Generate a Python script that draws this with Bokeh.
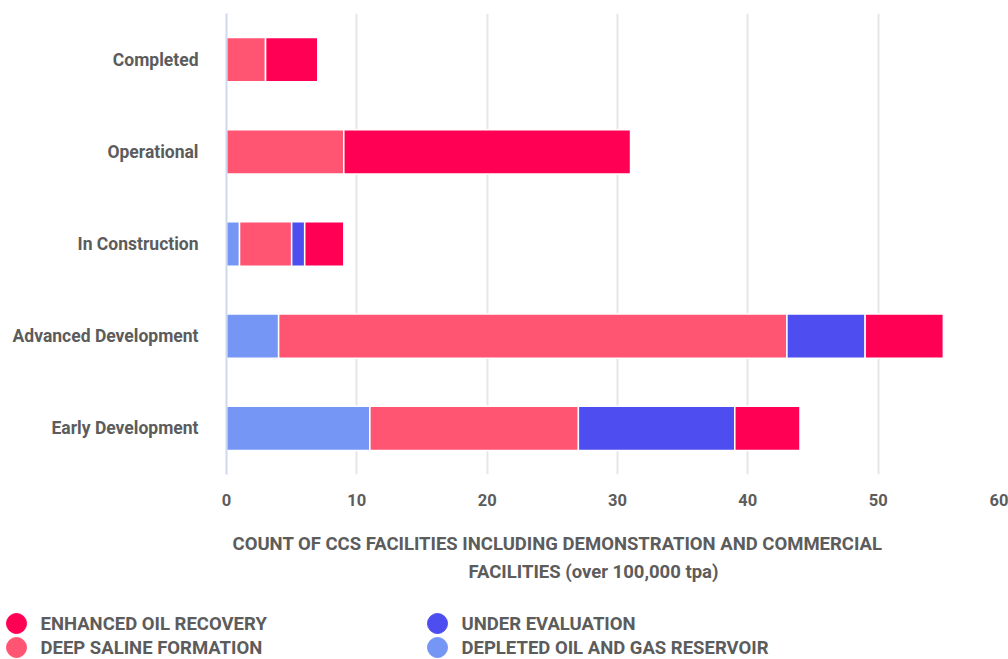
from bokeh.plotting import figure
from bokeh.models import FactorRange, Range1d, ColumnDataSource, FixedTicker
from bokeh.core.properties import value
from bokeh.embed import file_html
from bokeh.resources import INLINE

# ---- data ----
categories = ["Completed", "Operational", "In Construction",
              "Advanced Development", "Early Development"]
depleted = [0, 0, 1, 4, 11]
deep_saline = [3, 9, 4, 39, 16]
under_evaluation = [0, 0, 1, 6, 12]
enhanced_oil = [4, 22, 3, 6, 5]
x_ticks = [0, 10, 20, 30, 40, 50, 60]

series_keys = ["depleted", "deep_saline", "under_evaluation", "enhanced_oil"]
series_colors = ["#7596f5", "#ff5573", "#4d4df0", "#ff0055"]

legend_labels = ["ENHANCED OIL RECOVERY", "DEEP SALINE FORMATION",
                 "UNDER EVALUATION", "DEPLETED OIL AND GAS RESERVOIR"]
legend_colors = ["#ff0055", "#ff5573", "#4d4df0", "#7596f5"]

axis_title = ["COUNT OF CCS FACILITIES INCLUDING DEMONSTRATION AND COMMERCIAL",
              "FACILITIES (over 100,000 tpa)"]

FONT = "Roboto"
TXT = "#5c5c5c"

source = ColumnDataSource(dict(
    category=categories,
    depleted=depleted,
    deep_saline=deep_saline,
    under_evaluation=under_evaluation,
    enhanced_oil=enhanced_oil,
))

p = figure(
    width=1008, height=513,
    y_range=FactorRange(factors=list(reversed(categories)), range_padding=0),
    x_range=Range1d(0, 60),
    output_backend="svg", toolbar_location=None,
    min_border_left=226, min_border_right=0, min_border_top=13, min_border_bottom=39,
)
p.outline_line_color = None

p.hbar_stack(series_keys, y="category", height=0.48, color=series_colors,
             line_color="white", line_width=1.5, source=source)

p.ygrid.grid_line_color = None
p.xgrid.grid_line_color = "#e6e6e6"
p.xgrid.grid_line_width = 2
p.xgrid.level = "underlay"

p.xaxis.ticker = FixedTicker(ticks=x_ticks)
p.xaxis.axis_line_color = None
p.xaxis.major_tick_line_color = None
p.xaxis.minor_tick_line_color = None
p.xaxis.major_tick_out = 0
p.xaxis.minor_tick_out = 0
p.xaxis.major_label_standoff = 19
p.xaxis.major_label_text_font = FONT
p.xaxis.major_label_text_font_style = "bold"
p.xaxis.major_label_text_font_size = "16.5px"
p.xaxis.major_label_text_color = TXT

p.yaxis.axis_line_color = "#cdd9ee"
p.yaxis.axis_line_width = 2
p.yaxis.major_tick_line_color = None
p.yaxis.minor_tick_line_color = None
p.yaxis.major_tick_out = 0
p.yaxis.minor_tick_out = 0
p.yaxis.major_label_standoff = 28
p.yaxis.major_label_text_font = FONT
p.yaxis.major_label_text_font_style = "bold"
p.yaxis.major_label_text_font_size = "17.5px"
p.yaxis.major_label_text_color = TXT

# ---- axis title + legend (second root, pixel-mapped) ----
LW, LH = 1008, 146
lg = figure(width=LW, height=LH, x_range=Range1d(0, LW), y_range=Range1d(LH, 0),
            output_backend="svg", toolbar_location=None,
            min_border=0, min_border_left=0, min_border_right=0,
            min_border_top=0, min_border_bottom=0)
lg.axis.visible = False
lg.grid.visible = False
lg.outline_line_color = None

tsrc = ColumnDataSource(dict(x=[557, 593], y=[30, 58], text=axis_title))
lg.text("x", "y", text="text", source=tsrc, text_align="center",
        text_baseline="middle", text_font=value(FONT), text_font_style="bold",
        text_font_size="18.5px", text_color=TXT)

col_x = [16, 16, 437, 437]
row_y = [110, 134, 110, 134]
lsrc = ColumnDataSource(dict(
    x=col_x, y=row_y, tx=[c + 24 for c in col_x],
    label=legend_labels, color=legend_colors,
))
lg.scatter("x", "y", size=20, color="color", source=lsrc)
lg.text("tx", "y", text="label", source=lsrc, text_baseline="middle",
        text_font=value(FONT), text_font_style="bold", text_font_size="18.5px",
        text_color=TXT)

open("out.html", "w").write(file_html([p, lg], INLINE))
